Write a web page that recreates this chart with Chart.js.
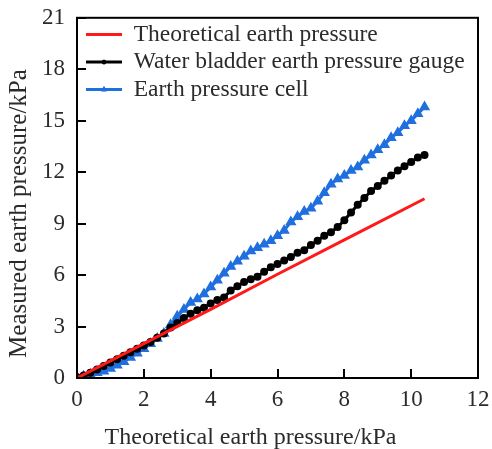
<!DOCTYPE html>
<html>
<head>
<meta charset="utf-8">
<script src="https://cdn.jsdelivr.net/npm/chart.js@4/dist/chart.umd.min.js"></script>
<style>
  body { margin: 0; background: #fff; }
  canvas { display: block; }
</style>
</head>
<body>
<canvas id="chart" width="492" height="449"></canvas>
<script>
// measured points
const xValues = [0, 0.2, 0.4, 0.6, 0.8, 1.0, 1.2, 1.4, 1.6, 1.8, 2.0, 2.2, 2.4, 2.6, 2.8, 3.0, 3.2, 3.4, 3.6, 3.8,
  4.0, 4.2, 4.4, 4.6, 4.8, 5.0, 5.2, 5.4, 5.6, 5.8, 6.0, 6.2, 6.4, 6.6, 6.8, 7.0, 7.2, 7.4, 7.6, 7.8,
  8.0, 8.2, 8.4, 8.6, 8.8, 9.0, 9.2, 9.4, 9.6, 9.8, 10.0, 10.2, 10.4];
const gaugeValues = [0.05, 0.15, 0.3, 0.5, 0.7, 0.9, 1.1, 1.3, 1.5, 1.7, 1.9, 2.1, 2.35, 2.6, 2.95, 3.2, 3.5, 3.75, 3.95, 4.1,
  4.35, 4.55, 4.7, 5.1, 5.35, 5.6, 5.75, 5.9, 6.2, 6.45, 6.65, 6.85, 7.05, 7.3, 7.45, 7.75, 8.0, 8.3, 8.5, 8.8,
  9.2, 9.65, 10.1, 10.5, 10.9, 11.2, 11.5, 11.8, 12.1, 12.35, 12.6, 12.85, 13.0];
const cellValues = [0.05, 0.1, 0.2, 0.3, 0.4, 0.55, 0.75, 0.95, 1.2, 1.45, 1.7, 2.0, 2.3, 2.6, 3.1, 3.6, 4.0, 4.4, 4.6, 4.9,
  5.3, 5.7, 6.1, 6.5, 6.8, 7.1, 7.4, 7.6, 7.8, 8.0, 8.3, 8.6, 9.1, 9.4, 9.7, 9.9, 10.3, 10.8, 11.3, 11.6,
  11.8, 12.1, 12.3, 12.7, 13.0, 13.3, 13.6, 14.0, 14.3, 14.7, 15.0, 15.4, 15.8];
const theoryX = [0, 2, 4, 6, 8, 10.4];
const theoryY = [0, 2.0, 4.0, 6.05, 8.05, 10.45];

const seriesNames = ["Theoretical earth pressure", "Water bladder earth pressure gauge", "Earth pressure cell"];
const xTicks = [0, 2, 4, 6, 8, 10, 12];
const yTicks = [0, 3, 6, 9, 12, 15, 18, 21];

const font = "'Liberation Serif', 'Times New Roman', serif";
const textColor = "#2b2b2b";
const legendBox = 36;

function toPoints(xs, ys) {
  return xs.map((x, i) => ({ x: x, y: ys[i] }));
}

// frame round the plot, short inward tick marks, legend moved into the plot
let legendShift = { x: 0, y: 0 };
const framePlugin = {
  id: "frame",
  beforeDraw(chart) {
    const a = chart.chartArea;
    const lg = chart.legend;
    if (lg) {
      const left = a.left + 5;
      const top = a.top + 1;
      legendShift = { x: left - lg.left, y: top - lg.top };
      lg.left = left;
      lg.top = top;
    }
  },
  afterDraw(chart) {
    const { ctx, chartArea: a, scales } = chart;
    ctx.save();
    ctx.strokeStyle = "#000";
    ctx.lineWidth = 2;
    ctx.strokeRect(a.left, a.top, a.right - a.left, a.bottom - a.top);
    ctx.beginPath();
    yTicks.forEach((v) => {
      const y = Math.round(scales.y.getPixelForValue(v));
      ctx.moveTo(a.left, y);
      ctx.lineTo(a.left + 9, y);
    });
    xTicks.forEach((v) => {
      const x = Math.round(scales.x.getPixelForValue(v));
      ctx.moveTo(x, a.bottom);
      ctx.lineTo(x, a.bottom - 9);
    });
    ctx.stroke();

    // marker in the middle of each legend line
    const boxes = chart.legend ? chart.legend.legendHitBoxes : [];
    boxes.forEach((b, i) => {
      const ds = chart.data.datasets[i];
      if (!ds.pointRadius) return;
      const cx = b.left + legendShift.x + legendBox / 2;
      const cy = b.top + legendShift.y + b.height / 2;
      ctx.fillStyle = ds.backgroundColor;
      ctx.strokeStyle = ds.borderColor;
      ctx.lineWidth = 1;
      Chart.helpers.drawPoint(ctx, { pointStyle: ds.pointStyle, radius: ds.pointRadius - 0.5, rotation: 0, borderWidth: 1 }, cx, cy);
    });
    ctx.restore();
  },
};

new Chart(document.getElementById("chart").getContext("2d"), {
  type: "scatter",
  data: {
    datasets: [
      {
        label: seriesNames[0],
        data: toPoints(theoryX, theoryY),
        showLine: true,
        borderColor: "#ff1a1a",
        backgroundColor: "#ff1a1a",
        borderWidth: 3,
        pointRadius: 0,
      },
      {
        label: seriesNames[1],
        data: toPoints(xValues, gaugeValues),
        showLine: true,
        borderColor: "#000",
        backgroundColor: "#000",
        borderWidth: 3,
        pointRadius: 2.5,
        pointStyle: "circle",
      },
      {
        label: seriesNames[2],
        data: toPoints(xValues, cellValues),
        showLine: true,
        borderColor: "#1f6fde",
        backgroundColor: "#1f6fde",
        borderWidth: 3,
        pointRadius: 3.5,
        pointStyle: "triangle",
      },
    ],
  },
  options: {
    responsive: false,
    animation: false,
    layout: { padding: { top: 3, right: 14, left: 0, bottom: 0 } },
    plugins: {
      tooltip: { enabled: false },
      legend: {
        position: "chartArea",
        align: "start",
        labels: {
          boxWidth: legendBox,
          boxHeight: 3,
          padding: 4,
          color: textColor,
          font: { family: font, size: 23.5 },
          generateLabels: (chart) =>
            Chart.defaults.plugins.legend.labels.generateLabels(chart).map((l) => ({
              ...l,
              lineWidth: 0,
              fillStyle: l.strokeStyle,
            })),
        },
      },
    },
    scales: {
      x: {
        type: "linear",
        min: 0,
        max: 12,
        afterFit: (s) => { s.height = 71; },
        afterBuildTicks: (s) => { s.ticks = xTicks.map((v) => ({ value: v })); },
        grid: { display: false },
        border: { display: false },
        ticks: { padding: 0, color: textColor, font: { family: font, size: 23 } },
        title: {
          display: true,
          // trailing spaces pull the title left, as in the original figure
          text: "Theoretical earth pressure/kPa\u2002\u2002\u2002\u2002\u2005",
          color: textColor,
          font: { family: font, size: 24 },
          padding: { top: 0, bottom: -3 },
        },
      },
      y: {
        type: "linear",
        min: 0,
        max: 21,
        afterFit: (s) => { s.width = 77; },
        afterBuildTicks: (s) => { s.ticks = yTicks.map((v) => ({ value: v })); },
        grid: { display: false },
        border: { display: false },
        ticks: { padding: 4, color: textColor, font: { family: font, size: 23 } },
        title: {
          display: true,
          text: "Measured earth pressure/kPa\u2002\u2002\u2005",
          color: textColor,
          font: { family: font, size: 25 },
          padding: { top: 4, bottom: 0 },
        },
      },
    },
  },
  plugins: [framePlugin],
});
</script>
</body>
</html>
